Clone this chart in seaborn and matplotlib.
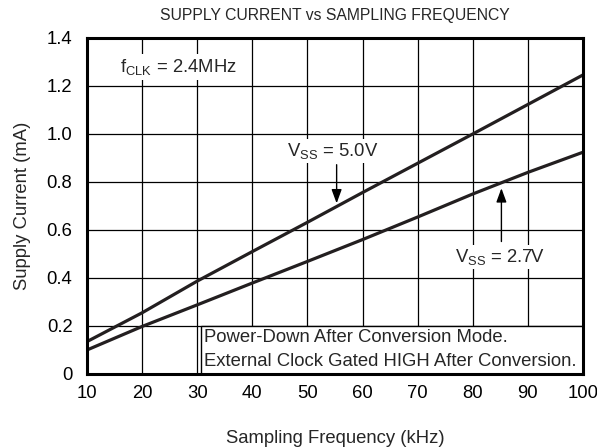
import numpy as np
import pandas as pd
import matplotlib
matplotlib.use("Agg")
import matplotlib.pyplot as plt
import seaborn as sns

# Supply current (mA) versus sampling frequency (kHz), fCLK = 2.4 MHz
freq_khz = [10, 20, 30, 40, 50, 60, 70, 80, 90, 100]
current_5v0 = [0.135, 0.255, 0.387, 0.51, 0.632, 0.756, 0.878, 1.0, 1.123, 1.246]
current_2v7 = [0.100, 0.198, 0.288, 0.379, 0.469, 0.560, 0.654, 0.750, 0.840, 0.924]

x_ticks = [10, 20, 30, 40, 50, 60, 70, 80, 90, 100]
y_ticks = [0, 0.2, 0.4, 0.6, 0.8, 1.0, 1.2, 1.4]
y_tick_labels = ["0", "0.2", "0.4", "0.6", "0.8", "1.0", "1.2", "1.4"]

df = pd.DataFrame({
    "freq": freq_khz * 2,
    "current": current_5v0 + current_2v7,
    "supply": ["5.0V"] * len(freq_khz) + ["2.7V"] * len(freq_khz),
})

sns.set_theme(style="white")
plt.rcParams["font.family"] = ["Liberation Sans", "DejaVu Sans"]
plt.rcParams["mathtext.fontset"] = "custom"
plt.rcParams["mathtext.rm"] = "Liberation Sans"
plt.rcParams["mathtext.it"] = "Liberation Sans:italic"

FS = 13.3

fig = plt.figure(figsize=(5.97, 4.48), dpi=100)
ax = fig.add_axes([0.1457, 0.1652, 0.8308, 0.75])

ax.set_xlim(10, 100)
ax.set_ylim(0, 1.4)
ax.set_xticks(x_ticks)
ax.set_yticks(y_ticks)
ax.set_yticklabels(y_tick_labels)
ax.grid(True, color="black", linewidth=0.9, zorder=0)
ax.set_axisbelow(True)

sns.lineplot(data=df, x="freq", y="current", hue="supply",
             palette={"5.0V": "#231f20", "2.7V": "#231f20"},
             linewidth=2.3, legend=False, ax=ax, zorder=3)

for sp in ax.spines.values():
    sp.set_color("black")
    sp.set_linewidth(2.2)
    sp.set_zorder(6)

ax.tick_params(axis="both", direction="in", length=4, width=0.8,
               colors="black", labelsize=FS)
ax.tick_params(axis="y", pad=10.5)
ax.tick_params(axis="x", pad=8)

ax.set_xlabel("Sampling Frequency (kHz)", fontsize=FS, labelpad=20)
ax.set_ylabel("Supply Current (mA)", fontsize=FS, labelpad=11)
ax.set_title("SUPPLY CURRENT vs SAMPLING FREQUENCY", fontsize=11.3, pad=13)

# clock annotation, over a white patch that hides the grid
ax.text(16.0, 1.28, r"f$_\mathregular{CLK}$ = 2.4MHz", fontsize=FS,
        va="center", ha="left", zorder=5,
        bbox=dict(facecolor="white", edgecolor="none", pad=2))

# supply voltage labels with arrows
ax.annotate("", xy=(55.3, 0.711), xytext=(55.3, 0.872),
            arrowprops=dict(arrowstyle="-|>,head_length=0.6,head_width=0.22",
                            color="black", lw=1.0,
                            mutation_scale=14, shrinkA=0, shrinkB=0), zorder=5)
ax.text(54.6, 0.928, r"V$_\mathregular{SS}$ = 5.0V", fontsize=FS,
        ha="center", va="center", zorder=5,
        bbox=dict(facecolor="white", edgecolor="none", pad=1.5))

ax.annotate("", xy=(85.2, 0.774), xytext=(85.2, 0.552),
            arrowprops=dict(arrowstyle="-|>,head_length=0.6,head_width=0.22",
                            color="black", lw=1.0,
                            mutation_scale=14, shrinkA=0, shrinkB=0), zorder=5)
ax.text(84.9, 0.489, r"V$_\mathregular{SS}$ = 2.7V", fontsize=FS,
        ha="center", va="center", zorder=5,
        bbox=dict(facecolor="white", edgecolor="none", pad=1.5))

# operating-mode note box in the lower right corner
ax.add_patch(plt.Rectangle((30.6, 0.0), 100 - 30.6, 0.2, facecolor="white",
                           edgecolor="black", linewidth=1.0, zorder=4))
ax.text(31.3, 0.15, "Power-Down After Conversion Mode.", fontsize=FS,
        ha="left", va="center", zorder=5)
ax.text(31.3, 0.052, "External Clock Gated HIGH After Conversion.", fontsize=FS,
        ha="left", va="center", zorder=5)

fig.savefig("out.png", dpi=100, facecolor="white")
